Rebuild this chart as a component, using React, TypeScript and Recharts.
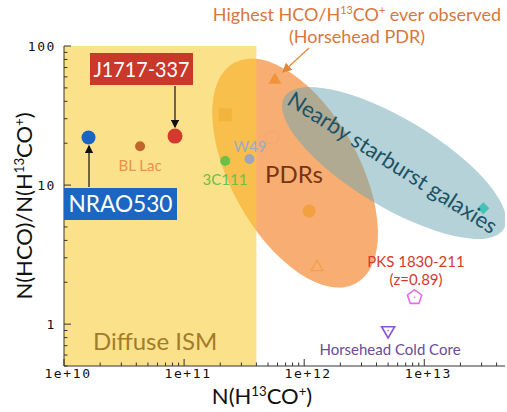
import React from "react";
import { ReferenceArea, Scatter, ScatterChart, XAxis, YAxis } from "recharts";

// N(H13CO+) column densities (cm^-2) and N(HCO)/N(H13CO+) ratios
const sourceNames = [
    "NRAO530",
    "BL Lac",
    "J1717-337",
    "3C111",
    "W49",
    "PDR square",
    "Horsehead PDR",
    "PDR open circle",
    "PDR filled circle",
    "PDR open triangle",
    "Starburst faint",
    "Starburst diamond",
    "PKS 1830-211",
    "Horsehead Cold Core",
];
const columnDensity = [
    1.6e10, 4.3e10, 8.4e10, 2.2e11, 3.5e11, 2.2e11, 5.7e11, 5.4e11, 1.1e12,
    1.28e12, 1.55e13, 3.1e13, 8.3e12, 5.0e12,
];
const abundanceRatio = [
    22, 19, 22.5, 14.9, 15.4, 32, 57, 22, 6.5, 2.57, 7.2, 6.8, 1.56, 0.9,
];

// region outlines (centres in data units)
const diffuseIsmEdge = 4e11;
const pdrCentre = { x: 8.4e11, y: 12.2 };
const starburstCentre = { x: 5.6e12, y: 14.4 };

// axes
const xDomain = [1e10, 4.7e13];
const yDomain = [0.5, 100];
const xDecades = [1e10, 1e11, 1e12, 1e13];
const xTickLabels = ["1e+10", "1e+11", "1e+12", "1e+13"];
const yDecades = [0.1, 1, 10, 100];
const yTickLabels = ["0.1", "1", "10", "100"];
const minorSteps = [2, 3, 4, 5, 6, 7, 8, 9];

const W = 507;
const H = 412;
const labelFont = "Lato, 'Open Sans', sans-serif";
const tickFont = "'DejaVu Sans Mono', monospace";

type Kind =
    | "circle"
    | "ring"
    | "square"
    | "triangle"
    | "openTriangle"
    | "diamond"
    | "openDiamond"
    | "pentagon"
    | "downTriangle";

const markerStyle: Record<string, { kind: Kind; r: number; color: string }> = {
    NRAO530: { kind: "circle", r: 7, color: "#1764c4" },
    "BL Lac": { kind: "circle", r: 5, color: "#c0662c" },
    "J1717-337": { kind: "circle", r: 7.5, color: "#d3392c" },
    "3C111": { kind: "circle", r: 5, color: "#6cc046" },
    W49: { kind: "circle", r: 5, color: "#9ea5b6" },
    "PDR square": { kind: "square", r: 6.5, color: "#f2b43c" },
    "Horsehead PDR": { kind: "triangle", r: 7.5, color: "#f2933c" },
    "PDR open circle": { kind: "ring", r: 6.5, color: "#f4a47a" },
    "PDR filled circle": { kind: "circle", r: 6.5, color: "#f2a042" },
    "PDR open triangle": { kind: "openTriangle", r: 7, color: "#f0a050" },
    "Starburst faint": { kind: "openDiamond", r: 4, color: "#8fd0cc" },
    "Starburst diamond": { kind: "diamond", r: 6, color: "#45c1b8" },
    "PKS 1830-211": { kind: "pentagon", r: 7.5, color: "#e070e4" },
    "Horsehead Cold Core": { kind: "downTriangle", r: 7.5, color: "#8a52d4" },
};

const polygon = (cx: number, cy: number, r: number, n: number, start: number) =>
    Array.from({ length: n }, (_, k) => {
        const a = ((start + (360 / n) * k) * Math.PI) / 180;
        return `${cx + r * Math.cos(a)},${cy + r * Math.sin(a)}`;
    }).join(" ");

const markerShape = (name: string) => (props: any) => {
    const { cx, cy } = props;
    const { kind, r, color } = markerStyle[name];
    const dot = <circle cx={cx} cy={cy} r={0.8} fill={color} />;
    switch (kind) {
        case "circle":
            return <circle cx={cx} cy={cy} r={r} fill={color} />;
        case "ring":
            return (
                <g>
                    <circle cx={cx} cy={cy} r={r} fill="none" stroke={color} strokeWidth={1.2} />
                    {dot}
                </g>
            );
        case "square":
            return <rect x={cx - r} y={cy - r} width={2 * r} height={2 * r} fill={color} />;
        case "triangle":
            return <polygon points={polygon(cx, cy, r, 3, -90)} fill={color} />;
        case "openTriangle":
            return (
                <polygon points={polygon(cx, cy, r, 3, -90)} fill="none" stroke={color} strokeWidth={1.3} />
            );
        case "diamond":
            return <polygon points={polygon(cx, cy, r, 4, -90)} fill={color} />;
        case "openDiamond":
            return (
                <polygon points={polygon(cx, cy, r, 4, -90)} fill="none" stroke={color} strokeWidth={1.2} />
            );
        case "pentagon":
            return (
                <g>
                    <polygon points={polygon(cx, cy, r, 5, -90)} fill="none" stroke={color} strokeWidth={1.6} />
                    {dot}
                </g>
            );
        case "downTriangle":
            return (
                <g>
                    <polygon points={polygon(cx, cy, r, 3, 90)} fill="none" stroke={color} strokeWidth={1.6} />
                    {dot}
                </g>
            );
    }
    return null;
};

const ellipseShape =
    (rx: number, ry: number, angle: number, fill: string, opacity: number) => (props: any) => (
        <ellipse
            cx={props.cx}
            cy={props.cy}
            rx={rx}
            ry={ry}
            fill={fill}
            fillOpacity={opacity}
            transform={`rotate(${angle} ${props.cx} ${props.cy})`}
        />
    );

const withMinors = (decades: number[]) =>
    decades.flatMap((d) => [d, ...minorSteps.map((m) => m * d)]);

const xTicks = withMinors(xDecades).filter((v) => v >= xDomain[0] && v <= xDomain[1]);
const yTicks = withMinors(yDecades).filter((v) => v >= yDomain[0] && v <= yDomain[1]);

const isMajor = (v: number, decades: number[]) =>
    decades.some((d) => Math.abs(v - d) / d < 1e-6);

const tickColour = "#333";

const BottomTick = (props: any) => {
    const { x, y, payload } = props;
    const i = xDecades.findIndex((d) => Math.abs(payload.value - d) / d < 1e-6);
    const len = i >= 0 ? 7 : 3.5;
    return (
        <g>
            <line x1={x} y1={y} x2={x} y2={y - len} stroke={tickColour} />
            {i >= 0 && (
                <text
                    x={x + 4}
                    y={y + 12}
                    textAnchor="middle"
                    fontFamily={tickFont}
                    fontSize={13}
                    letterSpacing={1.6}
                    fill="#111"
                >
                    {xTickLabels[i]}
                </text>
            )}
        </g>
    );
};

const TopTick = (props: any) => {
    const { x, y, payload } = props;
    const len = isMajor(payload.value, xDecades) ? 7 : 3.5;
    return <line x1={x} y1={y} x2={x} y2={y + len} stroke={tickColour} />;
};

const LeftTick = (props: any) => {
    const { x, y, payload } = props;
    const i = yDecades.findIndex((d) => Math.abs(payload.value - d) / d < 1e-6);
    const len = i >= 0 ? 7 : 3.5;
    return (
        <g>
            <line x1={x} y1={y} x2={x + len} y2={y} stroke={tickColour} />
            {i >= 0 && (
                <text
                    x={x - 8}
                    y={y + 5}
                    textAnchor="end"
                    fontFamily={tickFont}
                    fontSize={13}
                    letterSpacing={1.6}
                    fill="#111"
                >
                    {yTickLabels[i]}
                </text>
            )}
        </g>
    );
};

const RightTick = (props: any) => {
    const { x, y, payload } = props;
    const len = isMajor(payload.value, yDecades) ? 7 : 3.5;
    return <line x1={x} y1={y} x2={x - len} y2={y} stroke={tickColour} />;
};

const Sup = ({ children, size }: { children: React.ReactNode; size: number }) => (
    <tspan dy={-size * 0.38} fontSize={size * 0.6}>
        {children}
    </tspan>
);

const Annotations = () => (
    <svg
        width={W}
        height={H}
        style={{ position: "absolute", left: 0, top: 0, pointerEvents: "none" }}
        fontFamily={labelFont}
    >
        <defs>
            <marker id="headOrange" markerWidth="8" markerHeight="8" refX="7" refY="4" orient="auto">
                <path d="M0,0 L8,4 L0,8 z" fill="#e0883a" />
            </marker>
            <marker id="headBlack" markerWidth="7" markerHeight="7" refX="6" refY="3.5" orient="auto">
                <path d="M0,0 L7,3.5 L0,7 z" fill="#111" />
            </marker>
        </defs>

        <text x={357} y={21} textAnchor="middle" fontSize={18} fill="#d9763a">
            Highest HCO/H<Sup size={18}>13</Sup>
            <tspan dy={18 * 0.38}>CO</tspan>
            <Sup size={18}>+</Sup>
            <tspan dy={18 * 0.38}> ever observed</tspan>
        </text>
        <text x={357} y={43} textAnchor="middle" fontSize={18} fill="#d9763a">
            (Horsehead PDR)
        </text>
        <line x1={309} y1={48} x2={283} y2={72} stroke="#e0883a" strokeWidth={1.2} markerEnd="url(#headOrange)" />

        <rect x={90} y={53} width={103} height={32} fill="#c9382b" />
        <text
            x={141.5}
            y={77}
            textAnchor="middle"
            fontSize={22}
            fill="#fff"
            textLength={96}
            lengthAdjust="spacingAndGlyphs"
        >
            J1717-337
        </text>
        <line x1={175} y1={86} x2={175} y2={127} stroke="#111" strokeWidth={1.2} markerEnd="url(#headBlack)" />

        <rect x={64} y={188} width={113} height={32} fill="#1a66c2" />
        <text
            x={120.5}
            y={212}
            textAnchor="middle"
            fontSize={23}
            fill="#fff"
            textLength={104}
            lengthAdjust="spacingAndGlyphs"
        >
            NRAO530
        </text>
        <line x1={89} y1={187} x2={89} y2={146} stroke="#111" strokeWidth={1.2} markerEnd="url(#headBlack)" />

        <text x={140} y={171} textAnchor="middle" fontSize={15} fill="#e8914c">
            BL Lac
        </text>
        <text x={225} y={185} textAnchor="middle" fontSize={15} fill="#6dbf45">
            3C111
        </text>
        <text x={250} y={152} textAnchor="middle" fontSize={15} fill="#a0aabd">
            W49
        </text>
        <text x={294} y={183} textAnchor="middle" fontSize={24} fill="#7a3510">
            PDRs
        </text>
        <text
            x={393}
            y={162}
            textAnchor="middle"
            dominantBaseline="central"
            fontSize={22}
            fill="#1d5264"
            transform="rotate(32.5 393 162)"
        >
            Nearby starburst galaxies
        </text>
        <text x={416} y={267} textAnchor="middle" fontSize={15} fill="#d23b2e">
            PKS 1830-211
        </text>
        <text x={416} y={285} textAnchor="middle" fontSize={15} fill="#d23b2e">
            (z=0.89)
        </text>
        <text x={390} y={355} textAnchor="middle" fontSize={15} fill="#6a4a9c">
            Horsehead Cold Core
        </text>
        <text x={93} y={350} fontSize={24} fill="#a37b2c">
            Diffuse ISM
        </text>

        <text x={262} y={404} textAnchor="middle" fontSize={22} fill="#111">
            N(H<Sup size={22}>13</Sup>
            <tspan dy={22 * 0.38}>CO</tspan>
            <Sup size={22}>+</Sup>
            <tspan dy={22 * 0.38}>)</tspan>
        </text>
        <text transform="translate(32 206) rotate(-90)" textAnchor="middle" fontSize={22} fill="#111">
            N(HCO)/N(H<Sup size={22}>13</Sup>
            <tspan dy={22 * 0.38}>CO</tspan>
            <Sup size={22}>+</Sup>
            <tspan dy={22 * 0.38}>)</tspan>
        </text>
    </svg>
);

export default function App() {
    return (
        <div style={{ position: "relative", width: W, height: H, background: "#fff" }}>
            <style>{"body{margin:0}"}</style>
            <ScatterChart width={W} height={H} margin={{ top: 46, right: 2, bottom: 0, left: 0 }}>
                <XAxis
                    xAxisId={0}
                    dataKey="x"
                    type="number"
                    scale="log"
                    domain={xDomain}
                    allowDataOverflow
                    ticks={xTicks}
                    interval={0}
                    tick={<BottomTick />}
                    tickSize={0}
                    tickMargin={0}
                    tickLine={false}
                    height={46}
                    axisLine={{ stroke: tickColour }}
                />
                <XAxis
                    xAxisId="top"
                    orientation="top"
                    type="number"
                    scale="log"
                    domain={xDomain}
                    allowDataOverflow
                    ticks={xTicks}
                    interval={0}
                    tick={<TopTick />}
                    tickSize={0}
                    tickMargin={0}
                    tickLine={false}
                    height={0}
                    axisLine={{ stroke: tickColour }}
                />
                <YAxis
                    yAxisId={0}
                    dataKey="y"
                    type="number"
                    scale="log"
                    domain={yDomain}
                    allowDataOverflow
                    ticks={yTicks}
                    interval={0}
                    tick={<LeftTick />}
                    tickSize={0}
                    tickMargin={0}
                    tickLine={false}
                    width={64}
                    axisLine={{ stroke: tickColour }}
                />
                <YAxis
                    yAxisId="right"
                    orientation="right"
                    type="number"
                    scale="log"
                    domain={yDomain}
                    allowDataOverflow
                    ticks={yTicks}
                    interval={0}
                    tick={<RightTick />}
                    tickSize={0}
                    tickMargin={0}
                    tickLine={false}
                    width={0}
                    axisLine={{ stroke: tickColour }}
                />

                <Scatter
                    data={[pdrCentre]}
                    shape={ellipseShape(64, 126, -29, "#f8ae72", 1)}
                    isAnimationActive={false}
                    zIndex={50}
                />
                <ReferenceArea
                    x1={xDomain[0]}
                    x2={diffuseIsmEdge}
                    y1={yDomain[0]}
                    y2={yDomain[1]}
                    fill="#f8cc32"
                    fillOpacity={0.57}
                    stroke="none"
                    ifOverflow="hidden"
                    zIndex={100}
                />
                <Scatter
                    data={[starburstCentre]}
                    shape={ellipseShape(128, 44, 31, "#69a5b1", 0.5)}
                    isAnimationActive={false}
                    zIndex={150}
                />

                {sourceNames.map((name, i) => (
                    <Scatter
                        key={name}
                        name={name}
                        data={[{ x: columnDensity[i], y: abundanceRatio[i] }]}
                        shape={markerShape(name)}
                        isAnimationActive={false}
                    />
                ))}
            </ScatterChart>
            <Annotations />
        </div>
    );
}
